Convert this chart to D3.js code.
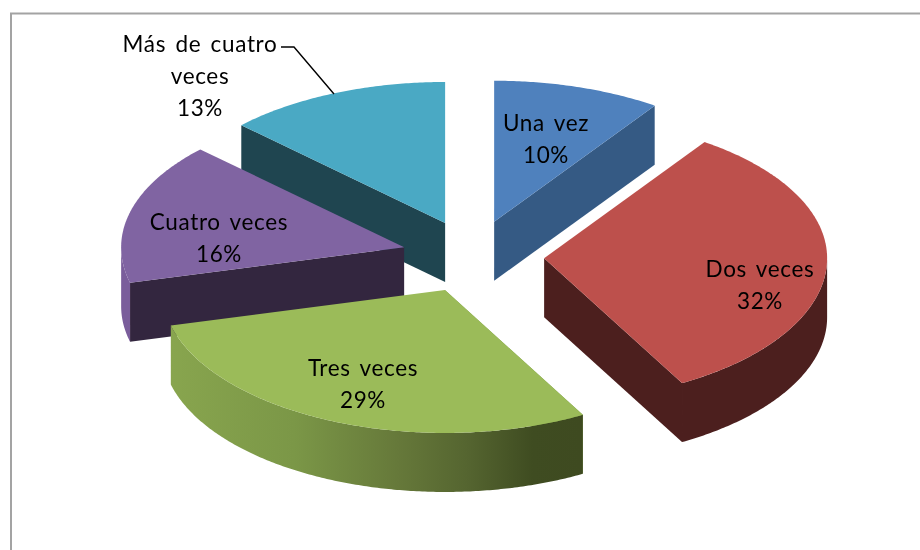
<!DOCTYPE html>
<html>
<head>
<meta charset="utf-8">
<script src="https://cdnjs.cloudflare.com/ajax/libs/d3/7.8.5/d3.min.js"></script>
<style>
html,body{margin:0;padding:0;background:#fff;overflow:hidden}
svg{display:block;filter:blur(0.4px)}
text{font-family:Lato,"Open Sans",sans-serif;font-size:22.5px;letter-spacing:0.65px;word-spacing:3px;fill:#000;text-anchor:middle}
</style>
</head>
<body>
<div id="chart"></div>
<script>
// Data
const categories = ["Una vez", "Dos veces", "Tres veces", "Cuatro veces", "Más de cuatro veces"];
const values = [9.6, 32.3, 29.1, 16.2, 12.8];
const labelLines = [["Una vez"], ["Dos veces"], ["Tres veces"], ["Cuatro veces"], ["Más de cuatro", "veces"]];

// Styles
const topColors = ["#4f81bd", "#bd504c", "#9bbb59", "#8064a2", "#4aa9c4"];
const wallColors = ["#355a84", "#4c1f1e", "#7d9a4a", "#33263f", "#1f4550"];
const rimColors = ["#355a84", "#4c1f1e", "url(#tresRim)", "#7a5d9b", "#1f4550"];
const gradientStops = [[0, "#88a54e"], [0.3, "#7b9747"], [0.55, "#66793a"], [0.72, "#556530"], [0.88, "#3f4c21"], [1, "#3e4a20"]];
const drawOrder = [4, 3, 0, 1, 2];
const labelCentres = [[546, 131], [760, 277], [363, 376], [219, 230], [200, 52]];

// Layout
const W = 920, H = 550;
const cx = 473, cy = 256.5, rx = 283, ryBack = 141, ryFront = 143, depth = 59, explodeX = 71.2, explodeY = 36.4;
const lineGap = 32;

const svg = d3.select("#chart").append("svg").attr("width", W).attr("height", H);

const grad = svg.append("defs").append("linearGradient").attr("id", "tresRim")
  .attr("gradientUnits", "userSpaceOnUse").attr("x1", 171).attr("x2", 582).attr("y1", 0).attr("y2", 0);
grad.selectAll("stop").data(gradientStops).join("stop")
  .attr("offset", d => d[0]).attr("stop-color", d => d[1]);

// Chart frame
svg.append("path").attr("d", d3.line()([[11, H], [11, 13.5], [W, 13.5]]))
  .attr("fill", "none").attr("stroke", "#a3a3a3").attr("stroke-width", 2);

const sx = d3.scaleLinear().domain([-1, 1]).range([-rx, rx]);
const sy = d3.scaleLinear().domain([-1, 0, 1]).range([-ryBack, 0, ryFront]);
const pie = d3.pie().sort(null);
const arcs = pie(values);
const line = d3.line();

// Angle is clockwise from 12 o'clock. Returns a projected rim point.
function rim(a, ox, oy, dz) {
  return [ox + sx(Math.sin(a)), oy + sy(-Math.cos(a)) + dz];
}
function sweep(a0, a1) {
  const n = Math.max(2, Math.ceil((a1 - a0) / 0.01));
  return d3.range(n + 1).map(i => a0 + (a1 - a0) * i / n);
}

drawOrder.forEach(i => {
  const d = arcs[i];
  const mid = (d.startAngle + d.endAngle) / 2;
  const ox = cx + explodeX * Math.sin(mid);
  const oy = cy - explodeY * Math.cos(mid);
  const g = svg.append("g").attr("class", "slice");

  // Cut wall seen from the front
  const cutA = mid < Math.PI ? d.endAngle : d.startAngle;
  g.append("path")
    .attr("d", line([[ox, oy], rim(cutA, ox, oy, 0), rim(cutA, ox, oy, depth), [ox, oy + depth]]) + "Z")
    .attr("fill", wallColors[i]);

  // Outer wall: only the front half of the rim faces the viewer
  const a0 = Math.max(d.startAngle, Math.PI / 2);
  const a1 = Math.min(d.endAngle, 3 * Math.PI / 2);
  if (a1 > a0) {
    const s = sweep(a0, a1);
    g.append("path")
      .attr("d", line(s.map(a => rim(a, ox, oy, 0)).concat(s.slice().reverse().map(a => rim(a, ox, oy, depth)))) + "Z")
      .attr("fill", rimColors[i]);
  }

  // Top face
  g.append("path")
    .attr("d", line([[ox, oy]].concat(sweep(d.startAngle, d.endAngle).map(a => rim(a, ox, oy, 0)))) + "Z")
    .attr("fill", topColors[i]);
});

// Leader line
svg.append("path").attr("d", line([[281, 47], [294, 47], [334, 94]]))
  .attr("fill", "none").attr("stroke", "#000").attr("stroke-width", 1.4);

// Labels
const pct = d3.format(".0f");
categories.forEach((c, i) => {
  const lines = labelLines[i].concat(pct(values[i]) + "%");
  svg.append("text").attr("aria-label", c)
    .selectAll("tspan").data(lines).join("tspan")
    .attr("x", labelCentres[i][0])
    .attr("y", (l, k) => labelCentres[i][1] + k * lineGap)
    .text(l => l);
});
</script>
</body>
</html>
